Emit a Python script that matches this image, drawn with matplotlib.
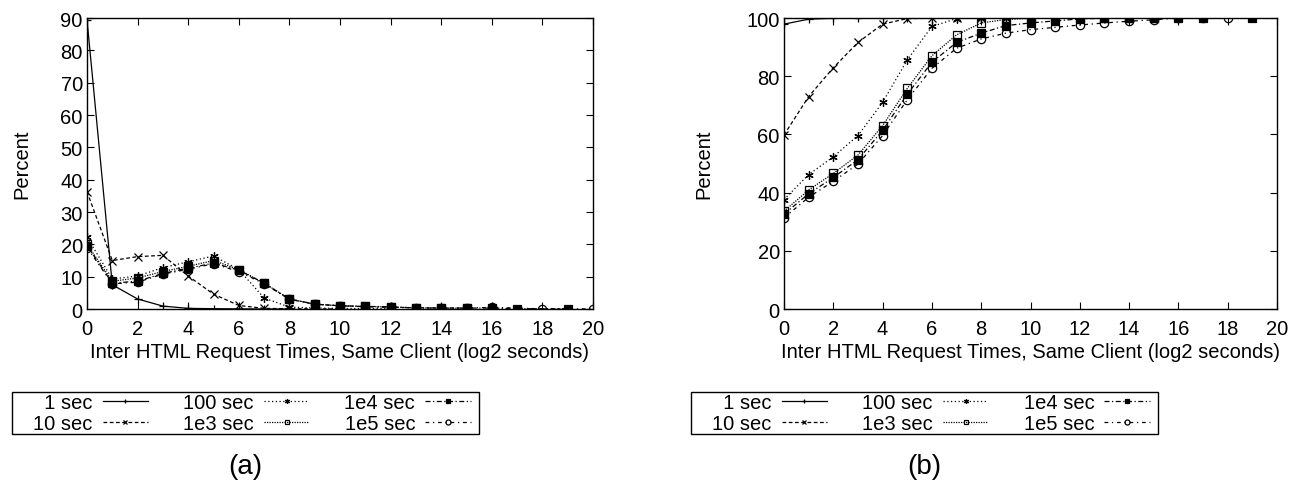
import numpy as np
import matplotlib.pyplot as plt
from matplotlib.patches import Rectangle

plt.rcParams['font.family'] = ['Liberation Sans', 'DejaVu Sans']

labels = ["\u20071 sec", "10 sec", "100 sec", "1e3 sec", "1e4 sec", "1e5 sec"]

# (a) distribution, percent per log2 bucket
xa = [list(range(0, 9)), list(range(0, 11)), list(range(0, 13)), list(range(0, 16)),
      list(range(0, 18)) + [19], list(range(0, 17)) + [18, 20]]
pa = [[89.5, 7.5, 3.1, 0.9, 0.2, 0.1, 0.05, 0, 0],
      [36.3, 15.0, 16.2, 16.6, 10.2, 4.6, 1.1, 0.2, 0.1, 0.05, 0],
      [22.2, 9.3, 10.2, 12.8, 14.6, 16.4, 12.2, 3.4, 0.6, 0.3, 0.2, 0.1, 0.1],
      [20.0, 8.6, 9.6, 11.6, 13.2, 15.0, 12.2, 8.0, 3.1, 1.5, 1.0, 0.8, 0.6, 0.4, 0.3, 0.2],
      [19.6, 8.0, 8.6, 11.0, 12.6, 14.2, 12.0, 8.0, 3.1, 1.5, 1.0, 0.8, 0.7, 0.3, 0.3, 0.3, 0.3, 0.1, 0.1],
      [19.0, 7.8, 8.3, 10.8, 12.3, 14.0, 11.6, 7.8, 3.0, 1.5, 1.0, 0.7, 0.5, 0.4, 0.3, 0.3, 0.5, 0.05, 0.05]]

# (b) cumulative percent
xb = [list(range(0, 11)), list(range(0, 11)), list(range(0, 13)), list(range(0, 16)),
      list(range(0, 18)) + [19], list(range(0, 19))]
pb = [[97.9, 99.6, 99.9, 100, 100, 100, 100, 100, 100, 100, 100],
      [59.8, 73.0, 82.9, 91.6, 97.9, 99.8, 99.9, 100, 100, 100, 100],
      [37.6, 46.2, 52.3, 59.6, 71.0, 85.6, 97.1, 99.8, 99.9, 100, 100, 100, 100],
      [33.6, 40.9, 46.6, 52.9, 63.0, 75.8, 87.0, 94.2, 98.3, 99.5, 99.9, 100, 100, 100, 100, 100],
      [32.6, 39.6, 45.2, 51.3, 61.4, 73.8, 84.8, 91.6, 94.8, 97.4, 98.3, 99.0, 99.7, 99.9, 100, 100, 100, 100, 100],
      [31.3, 38.4, 43.9, 49.8, 59.6, 71.9, 82.7, 89.6, 92.8, 94.8, 96.0, 96.8, 97.6, 98.3, 98.9, 99.4, 100, 100, 100]]

styles = [dict(ls='-', marker='+', mfc='k'),
          dict(ls=(0, (3, 2)), marker='x', mfc='k'),
          dict(ls=(0, (1, 2)), marker=(6, 2, 0), mfc='k'),
          dict(ls=(0, (1, 1)), marker='s', mfc='none'),
          dict(ls=(0, (4, 2, 1, 2)), marker='s', mfc='k'),
          dict(ls=(0, (3, 3, 1, 3)), marker='o', mfc='none')]

fs = 14.5
W, H = 1302, 485
fig = plt.figure(figsize=(W / 100, H / 100), dpi=100)
ax1 = fig.add_axes([87 / W, 0.3608, 506 / W, 0.6])
ax2 = fig.add_axes([784 / W, 0.3608, 493 / W, 0.6])

for ax, xs, ps, ymax, ystep, bx, ylp, tag in [(ax1, xa, pa, 90, 10, 12, 21, "(a)"),
                                               (ax2, xb, pb, 100, 20, 691, 24, "(b)")]:
    for x, p, lab, st in zip(xs, ps, labels, styles):
        ax.plot(x, p, color='k', lw=0.9, ms=6, mew=0.9, mec='k', label=lab, **st)
    ax.set_xlim(0, 20)
    ax.set_ylim(0, ymax)
    ax.set_xticks(np.arange(0, 21, 2))
    ax.set_yticks(np.arange(0, ymax + 1, ystep))
    ax.tick_params(direction='in', top=True, right=True, length=5, labelsize=fs)
    ax.tick_params(axis='x', pad=7)
    ax.tick_params(axis='y', pad=3)
    ax.set_xlabel("Inter HTML Request Times, Same Client (log2 seconds)", fontsize=fs, labelpad=3)
    ax.set_ylabel("Percent", fontsize=fs, labelpad=ylp)
    for s in ax.spines.values():
        s.set_linewidth(1.0)
    # legend box drawn separately, entries right-aligned like gnuplot's key
    fig.add_artist(Rectangle((bx / W, 1 - 435 / H), 467 / W, 42 / H, transform=fig.transFigure,
                             fill=False, ec='k', lw=1.0))
    ax.legend(ncol=3, loc='center left', bbox_to_anchor=((bx + 21) / W, 1 - 414 / H),
              bbox_transform=fig.transFigure, markerfirst=False, frameon=False, fontsize=fs,
              handlelength=2.25, handletextpad=0.5, labelspacing=0.1, borderpad=0,
              borderaxespad=0, columnspacing=1.75, markerscale=0.6)
    fig.text((bx + 233) / W, 1 - 467 / H, tag, ha='center', va='center', fontsize=20)

fig.savefig("out.png", dpi=100)
